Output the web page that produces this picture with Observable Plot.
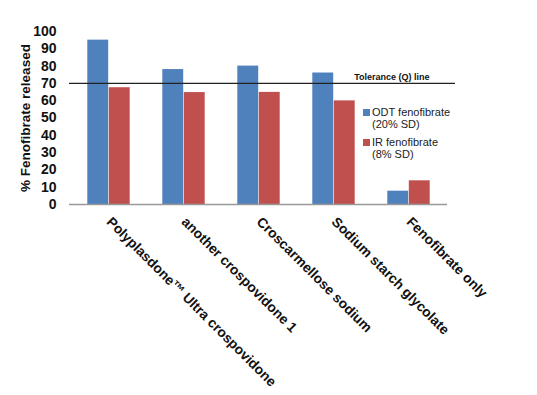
<!DOCTYPE html>
<html>
<head>
<meta charset="utf-8">
<script src="https://cdn.jsdelivr.net/npm/d3@7"></script>
<script src="https://cdn.jsdelivr.net/npm/@observablehq/plot@0.6"></script>
<style>
  html, body { margin: 0; padding: 0; background: #fff; }
  #chart { position: relative; width: 537px; height: 395px; font-family: "Liberation Sans", Arial, sans-serif; }
  #legend { position: absolute; left: 363px; top: 106px; font-size: 11px; line-height: 12px; color: #222; }
  .item { display: flex; align-items: flex-start; margin-bottom: 6px; }
  .sw { width: 7px; height: 7px; margin-top: 3px; margin-right: 2px; flex: none; }
</style>
</head>
<body>
<div id="chart"><div id="legend"></div></div>
<script>
const categories = ["Polyplasdone™ Ultra crospovidone", "another crospovidone 1", "Croscarmellose sodium", "Sodium starch glycolate", "Fenofibrate only"];
const seriesNames = ["ODT fenofibrate", "IR fenofibrate"];
const seriesNotes = ["(20% SD)", "(8% SD)"];
const odtValues = [95, 78, 80, 76, 7.7];
const irValues = [67.5, 64.7, 64.8, 59.9, 13.7];
const yTicks = [0, 10, 20, 30, 40, 50, 60, 70, 80, 90, 100];
const tolerance = [{value: 70, label: "Tolerance (Q) line"}];
const yTitle = ["% Fenofibrate released"];
const colors = ["#4F81BD", "#C0504D"];

const odt = categories.map((c, i) => ({category: c, series: seriesNames[0], value: odtValues[i]}));
const ir = categories.map((c, i) => ({category: c, series: seriesNames[1], value: irValues[i]}));

const plot = Plot.plot({
  width: 537,
  height: 395,
  marginLeft: 69,
  marginTop: 31,
  marginBottom: 191,
  marginRight: 82,
  style: {fontFamily: "'Liberation Sans', Arial, sans-serif", background: "transparent"},
  x: {domain: categories, padding: 0, insetRight: 8},
  y: {domain: [0, 100]},
  color: {domain: seriesNames, range: colors},
  marks: [
    Plot.barY(odt, {x: "category", y: "value", fill: "series", insetLeft: 16.3, insetRight: 37.8}),
    Plot.barY(ir, {x: "category", y: "value", fill: "series", insetLeft: 37.8, insetRight: 16.3}),
    Plot.ruleY([0], {stroke: "#999", strokeWidth: 1.5, insetRight: 8}),
    Plot.ruleY(tolerance, {y: "value", stroke: "#222", strokeWidth: 1.3}),
    Plot.text(tolerance, {y: "value", text: "label", frameAnchor: "right", textAnchor: "end", dx: -26, dy: -6, fontWeight: "bold", fontSize: 9, fill: "#111"}),
    Plot.axisY({ticks: yTicks, tickSize: 0, tickPadding: 13, fontSize: 14, fontWeight: "bold", label: null, line: true, stroke: "#999", fill: "#111"}),
    Plot.axisX({tickSize: 0, tickRotate: 45, tickPadding: 15, fontSize: 13.8, fontWeight: "bold", label: null, fill: "#111", textOverflow: null, lineWidth: Infinity}),
    Plot.text(yTitle, {frameAnchor: "left", textAnchor: "middle", rotate: -90, dx: -44, fontWeight: "bold", fontSize: 13.5, fill: "#111"})
  ]
});
document.getElementById("chart").prepend(plot);

const legend = document.getElementById("legend");
seriesNames.forEach((s, i) => {
  const item = document.createElement("div");
  item.className = "item";
  item.innerHTML = `<div class="sw" style="background:${colors[i]}"></div><div>${s}<br>${seriesNotes[i]}</div>`;
  legend.appendChild(item);
});
</script>
</body>
</html>
